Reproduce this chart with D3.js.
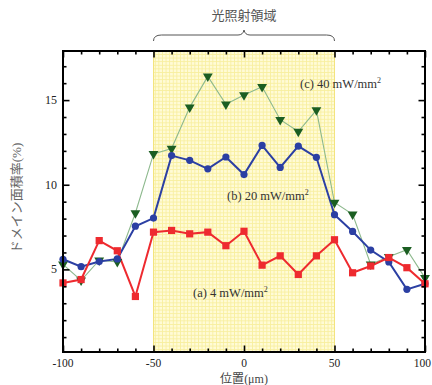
<!DOCTYPE html>
<html><head><meta charset="utf-8">
<script src="https://cdn.jsdelivr.net/npm/d3@7"></script>
<style>html,body{margin:0;padding:0;background:#fff;} svg{display:block;}</style>
</head><body>
<svg id="c" width="432" height="385"></svg>
<script>
const positions = [-100,-90,-80,-70,-60,-50,-40,-30,-20,-10,0,10,20,30,40,50,60,70,80,90,100];
const seriesA = [4.2,4.4,6.7,6.1,3.4,7.2,7.3,7.1,7.2,6.4,7.25,5.25,5.8,4.7,5.8,6.75,4.8,5.2,5.7,5.1,4.15]; // 4 mW/mm2
const seriesB = [5.6,5.16,5.46,5.62,7.55,8.03,11.72,11.44,10.94,11.64,10.6,12.32,11.02,12.28,11.62,8.23,7.24,6.14,5.44,3.82,4.15]; // 20 mW/mm2
const seriesC = [5.3,4.35,5.54,5.44,8.33,11.82,12.14,14.57,16.4,14.75,15.3,15.79,13.84,13.14,14.41,8.95,8.25,5.3,5.74,6.16,4.5]; // 40 mW/mm2
const band = [-50, 50];
const xMajor = [-100,-50,0,50,100];
const xMinor = d3.range(-100, 101, 10);
const yMajor = [5,10,15];
const yMinor = d3.range(1, 18, 1);
const labels = ["(a) 4 mW/mm", "(b) 20 mW/mm", "(c) 40 mW/mm"];

const svg = d3.select("#c");
const L=63, R=425, T=51, B=352;
const x = d3.scaleLinear().domain([-100,100]).range([L,R]);
const y = d3.scaleLinear().domain([0.12,17.9]).range([B,T]);

// pattern for band
const defs = svg.append("defs");
const pat = defs.append("pattern").attr("id","grid").attr("patternUnits","userSpaceOnUse")
  .attr("width",3.6).attr("height",3.6);
pat.append("rect").attr("width",3.6).attr("height",3.6).attr("fill","#fffbd6");
pat.append("path").attr("d","M0,0.4H3.6M0.4,0V3.6").attr("stroke","#f8ef9e").attr("stroke-width",0.9);

svg.append("rect").attr("x",x(band[0])).attr("y",T).attr("width",x(band[1])-x(band[0])).attr("height",B-T)
  .attr("fill","url(#grid)");
svg.append("line").attr("x1",x(band[0])).attr("x2",x(band[0])).attr("y1",T).attr("y2",B).attr("stroke","#f3e47e").attr("stroke-width",1);
svg.append("line").attr("x1",x(band[1])).attr("x2",x(band[1])).attr("y1",T).attr("y2",B).attr("stroke","#f3e47e").attr("stroke-width",1);

// brace and title
const bx0 = x(band[0]), bx1 = x(band[1]), bm=(bx0+bx1)/2;
svg.append("path").attr("d",
  `M${bx0},41 Q${bx0},35 ${bx0+8},35 L${bm-6},35 Q${bm-1},35 ${bm},30 Q${bm+1},35 ${bm+6},35 L${bx1-8},35 Q${bx1},35 ${bx1},41`)
  .attr("fill","none").attr("stroke","#555").attr("stroke-width",1);
svg.append("text").attr("x",bm).attr("y",20).attr("text-anchor","middle")
  .attr("font-family","'Noto Sans CJK JP'").attr("font-size",13).attr("fill","#555").text("光照射領域");

// lines
const line = (vals)=>d3.line().x((d,i)=>x(positions[i])).y(d=>y(d))(vals);
svg.append("path").attr("d",line(seriesC)).attr("fill","none").attr("stroke","#8db98d").attr("stroke-width",1.1);
svg.append("path").attr("d",line(seriesB)).attr("fill","none").attr("stroke","#2b3fa3").attr("stroke-width",2);
svg.append("path").attr("d",line(seriesA)).attr("fill","none").attr("stroke","#ee2a2f").attr("stroke-width",2);

const tri = d3.symbol().type(d3.symbolTriangle).size(42)();
svg.append("g").selectAll("path").data(seriesC).join("path")
  .attr("d",tri).attr("transform",(d,i)=>`translate(${x(positions[i])},${y(d)}) rotate(180)`).attr("fill","#1b5e22");
svg.append("g").selectAll("circle").data(seriesB).join("circle")
  .attr("cx",(d,i)=>x(positions[i])).attr("cy",d=>y(d)).attr("r",3.6).attr("fill","#2b3fa3");
svg.append("g").selectAll("rect").data(seriesA).join("rect")
  .attr("x",(d,i)=>x(positions[i])-3.6).attr("y",d=>y(d)-3.6).attr("width",7.2).attr("height",7.2).attr("fill","#ee2a2f");

// axes ticks (inward on all sides)
function ticks(axisFn, scale, vals, size, transform){
  const g = svg.append("g").attr("transform",transform)
    .call(axisFn(scale).tickValues(vals).tickSize(size).tickFormat(""));
  g.select(".domain").remove();
  g.selectAll("line").attr("stroke","#000").attr("stroke-width",1.6);
  return g;
}
ticks(d3.axisBottom, x, xMinor.filter(v=>!xMajor.includes(v)), -3.5, `translate(0,${B})`);
ticks(d3.axisBottom, x, xMajor, -6.5, `translate(0,${B})`);
ticks(d3.axisTop, x, xMinor.filter(v=>!xMajor.includes(v)), -3.5, `translate(0,${T})`);
ticks(d3.axisTop, x, xMajor, -6.5, `translate(0,${T})`);
ticks(d3.axisLeft, y, yMinor.filter(v=>!yMajor.includes(v)), -3.5, `translate(${L},0)`);
ticks(d3.axisLeft, y, yMajor, -6.5, `translate(${L},0)`);
ticks(d3.axisRight, y, yMinor.filter(v=>!yMajor.includes(v)), -3.5, `translate(${R},0)`);
ticks(d3.axisRight, y, yMajor, -6.5, `translate(${R},0)`);

svg.append("rect").attr("x",L).attr("y",T).attr("width",R-L).attr("height",B-T)
  .attr("fill","none").attr("stroke","#000").attr("stroke-width",2);

// tick labels
const serif = "'Liberation Serif', 'DejaVu Serif', serif";
svg.append("g").selectAll("text").data(xMajor).join("text")
  .attr("x",d=>d===100 ? 431 : x(d)).attr("y",367)
  .attr("text-anchor",d=>d===100 ? "end" : "middle")
  .attr("font-family",serif).attr("font-size",11.5).attr("fill","#222").text(d=>d);
svg.append("g").selectAll("text").data(yMajor).join("text")
  .attr("x",57).attr("y",d=>y(d)+4).attr("text-anchor","end")
  .attr("font-family",serif).attr("font-size",12).attr("fill","#222").text(d=>d);

// axis titles
const xt = svg.append("text").attr("x",244).attr("y",383).attr("text-anchor","middle")
  .attr("font-size",12).attr("fill","#444");
xt.append("tspan").attr("font-family","'Noto Sans CJK JP'").text("位置");
xt.append("tspan").attr("font-family",serif).text("(μm)");
const yt = svg.append("text").attr("transform","translate(21,198) rotate(-90)").attr("text-anchor","middle")
  .attr("font-size",13).attr("fill","#666");
yt.append("tspan").attr("font-family","'Noto Sans CJK JP'").text("ドメイン面積率");
yt.append("tspan").attr("font-family",serif).text("(%)");

// series labels
const lab = [[193,297],[227,200],[300,88]];
lab.forEach((p,i)=>{
  const t = svg.append("text").attr("x",p[0]).attr("y",p[1]).attr("font-family",serif)
    .attr("font-size",12.5).attr("fill","#333");
  t.append("tspan").text(labels[i]);
  t.append("tspan").attr("font-size",8).attr("dy",-5).text("2");
});
</script>
</body></html>
